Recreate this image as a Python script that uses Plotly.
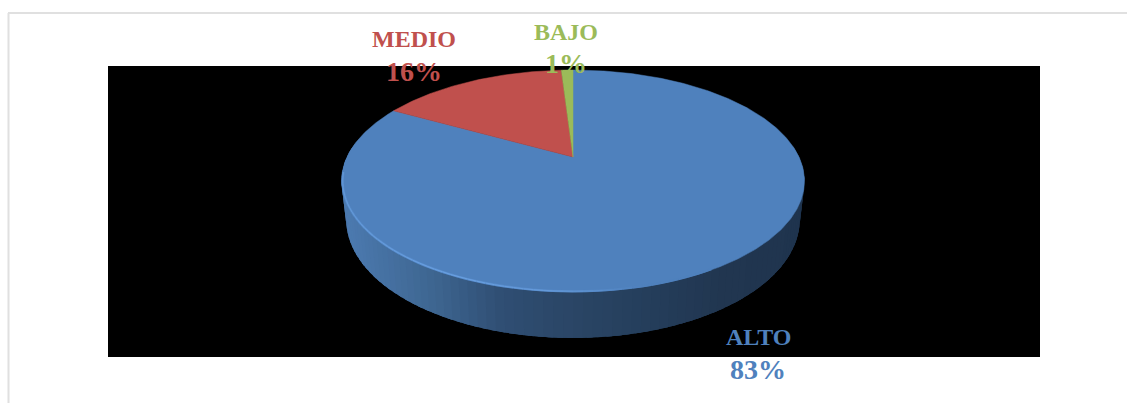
import numpy as np
import plotly.graph_objects as go

# Chart data
categories = ["ALTO", "MEDIO", "BAJO"]
values = [83, 16, 1]
slice_colors = ["#4F81BD", "#C0504D", "#9BBB59"]

# Label anchors in page pixels: centre x, name line y, percentage line y
label_pos = {"ALTO": (758, 337, 369), "MEDIO": (414, 39, 71), "BAJO": (566, 32, 63)}

WIDTH, HEIGHT = 1127, 403
PANEL = (108, 1040, 66, 357)

# Perspective disc: apex position, radii and foreshortening
CX, CY = 573.0, 157.0
RX, RY, K = 226.0, 105.8, 0.216
WALL_SHRINK = 0.98


def project(theta, scale=1.0):
    """Project angle (radians clockwise from 12 o'clock) onto the tilted disc."""
    u, v = np.sin(theta), np.cos(theta)
    w = 1 + K * v
    return CX + scale * RX * u / w, CY - scale * RY * v / w


def project_base(theta):
    """Same angle on the lower edge of the disc wall."""
    u, v = np.sin(theta), np.cos(theta)
    w = 1 + K * v
    drop = 36 - 10 * v
    return CX + WALL_SHRINK * RX * u / w, CY - RY * v / w + drop


def lerp_color(x, stops):
    xs = [s[0] for s in stops]
    r = np.interp(x, xs, [s[1][0] for s in stops])
    g = np.interp(x, xs, [s[1][1] for s in stops])
    b = np.interp(x, xs, [s[1][2] for s in stops])
    return f"rgb({r:.0f},{g:.0f},{b:.0f})"


fig = go.Figure()


def add(x, y, **kw):
    fig.add_trace(go.Scatter(x=x, y=y, mode="lines", hoverinfo="skip", showlegend=False, **kw))


# Disc wall: a solid base, then overlapping quads shaded from left to right
wall_stops = [
    (345, (76, 122, 176)), (430, (62, 102, 145)), (500, (47, 78, 115)),
    (573, (42, 69, 101)), (640, (37, 62, 92)), (720, (33, 54, 80)), (805, (31, 52, 78)),
]
whole = np.radians(np.linspace(84, 276, 200))
xt0, yt0 = project(whole)
xb0, yb0 = project_base(whole[::-1])
add(np.r_[xt0, xb0, xt0[0]], np.r_[yt0, yb0, yt0[0]], fill="toself",
    fillcolor="rgb(40,66,97)", line=dict(width=0))

edges = np.radians(np.linspace(84, 276, 97))
step = edges[1] - edges[0]
for a in edges[:-1]:
    ta = np.linspace(a, a + 1.6 * step, 4)
    xt, yt = project(ta)
    xb, yb = project_base(ta[::-1])
    col = lerp_color((xt.mean() + xb.mean()) / 2, wall_stops)
    add(np.r_[xt, xb, xt[0]], np.r_[yt, yb, yt[0]], fill="toself", fillcolor=col,
        line=dict(width=0))

# Top face: one wedge per category, clockwise from 12 o'clock
total = sum(values)
start = 0.0
for name, val, col in zip(categories, values, slice_colors):
    end = start + 2 * np.pi * val / total
    th = np.linspace(start, end, max(4, int(val * 6)))
    xa, ya = project(th)
    add(np.r_[CX, xa, CX], np.r_[CY, ya, CY], fill="toself", fillcolor=col,
        line=dict(color=col, width=0.5))
    start = end

# Soft bevel just inside the front rim of the top face
soft_stops = [
    (340, (86, 138, 200)), (450, (88, 140, 204)), (570, (86, 137, 199)),
    (650, (79, 129, 189)), (806, (79, 129, 189)),
]
core_stops = [
    (340, (98, 152, 216)), (450, (106, 161, 226)), (560, (100, 153, 217)),
    (640, (79, 129, 189)), (806, (79, 129, 189)),
]
rim_edges = np.radians(np.linspace(150, 262, 57))
for stops, lw in ((soft_stops, 2.4), (core_stops, 1.1)):
    for a, b in zip(rim_edges[:-1], rim_edges[1:]):
        ta = np.linspace(a, b, 3)
        xr, yr = project(ta, 0.995)
        add(xr, yr, line=dict(color=lerp_color(xr.mean(), stops), width=lw))

# Panel frame on the page
frame_color = "#E0E0E0"
shapes = [
    dict(type="line", xref="paper", yref="paper", x0=8.5 / WIDTH, x1=8.5 / WIDTH,
         y0=0, y1=1 - 13 / HEIGHT, line=dict(color=frame_color, width=2), layer="below"),
    dict(type="line", xref="paper", yref="paper", x0=8 / WIDTH, x1=1,
         y0=1 - 13 / HEIGHT, y1=1 - 13 / HEIGHT, line=dict(color=frame_color, width=2), layer="below"),
]

# Category and percentage labels, in the colour of their slices
annotations = []
for name, val, col in zip(categories, values, slice_colors):
    px, py_name, py_pct = label_pos[name]
    for text, py, size in ((name, py_name, 24), (f"{val}%", py_pct, 28)):
        annotations.append(dict(
            xref="paper", yref="paper", x=px / WIDTH, y=1 - py / HEIGHT,
            text=f"<b>{text}</b>", showarrow=False, align="center",
            xanchor="center", yanchor="middle",
            font=dict(family="Liberation Serif", size=size, color=col),
        ))

hidden_axis = dict(visible=False, showgrid=False, zeroline=False, fixedrange=True)
fig.update_layout(
    width=WIDTH, height=HEIGHT, margin=dict(l=0, r=0, t=0, b=0),
    paper_bgcolor="white", plot_bgcolor="black", showlegend=False,
    xaxis=dict(hidden_axis, range=[PANEL[0], PANEL[1]],
               domain=[PANEL[0] / WIDTH, PANEL[1] / WIDTH]),
    yaxis=dict(hidden_axis, range=[PANEL[3], PANEL[2]],
               domain=[1 - PANEL[3] / HEIGHT, 1 - PANEL[2] / HEIGHT]),
    shapes=shapes, annotations=annotations,
)

fig.write_html("out.html", config=dict(displayModeBar=False))
